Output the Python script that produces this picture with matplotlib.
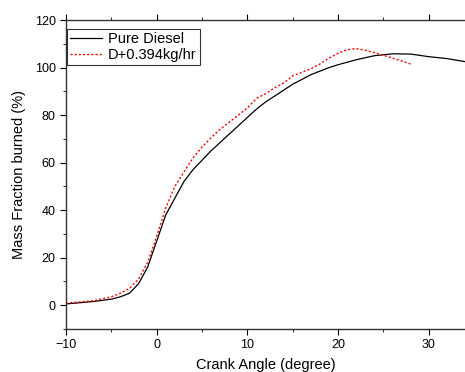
import numpy as np
import matplotlib
matplotlib.use("Agg")
from matplotlib import pyplot as plt
from matplotlib.ticker import MultipleLocator

plt.rcParams['font.family'] = ['Liberation Sans', 'DejaVu Sans']

# Pure Diesel
angDiesel = [-10, -7, -5, -4, -3, -2, -1, 0, 1, 2, 3, 4, 5, 6, 7, 8, 9, 10, 11, 12,
             13, 14, 15, 16, 17, 18, 19, 20, 22, 24, 26, 28, 30, 32, 34]
mfbDiesel = [0.5, 1.5, 2.5, 3.5, 5, 9, 16, 27, 38, 45, 52, 57, 61, 65, 68.5, 72, 75.5, 79, 82.5, 85.5,
             88, 90.5, 93, 95, 97, 98.5, 100, 101.2, 103.3, 105, 105.8, 105.7, 104.6, 103.8, 102.5]

# D+0.394kg/hr
angGas = [-10, -7, -5, -4, -3, -2, -1, 0, 1, 2, 3, 4, 5, 6, 7, 8, 9, 10, 11, 12, 13, 14,
          15, 16, 17, 18, 19, 20, 21, 22, 23, 24, 25, 26, 27, 28]
mfbGas = [0.8, 1.8, 3.5, 5, 7, 11, 18, 29, 41, 50, 56, 62, 66.5, 70.5, 74, 77, 80, 83, 87, 89, 91.5, 93.5,
          96.5, 98, 99.5, 101.5, 104, 106, 107.5, 108, 107.3, 106.3, 105.2, 104, 102.8, 101.5]

fig = plt.figure(figsize=(4.65, 3.72), dpi=100)
ax = fig.add_axes([0.142, 0.116, 0.858, 0.830])

ax.plot(angDiesel, mfbDiesel, color='black', lw=0.9, label='Pure Diesel')
ax.plot(angGas, mfbGas, color='red', lw=1.0, ls=(0, (1.5, 1.5)), label='D+0.394kg/hr')

ax.set_xlim(-10, 34)
ax.set_ylim(-10, 120)
ax.xaxis.set_major_locator(MultipleLocator(10))
ax.xaxis.set_minor_locator(MultipleLocator(5))
ax.yaxis.set_major_locator(MultipleLocator(20))
ax.yaxis.set_minor_locator(MultipleLocator(10))
ax.tick_params(which='both', direction='out', labelsize=9, top=True, labeltop=False)
ax.tick_params(which='major', length=4)
ax.tick_params(which='minor', length=2.5)
ax.spines['right'].set_visible(False)
for s in ['left', 'bottom', 'top']:
    ax.spines[s].set_linewidth(1.0)
    ax.spines[s].set_color('#333333')

ax.set_xlabel('Crank Angle (degree)', fontsize=10.5, labelpad=5)
ax.set_ylabel('Mass Fraction burned (%)', fontsize=10.5, labelpad=6)

leg = ax.legend(loc='upper left', fontsize=10.5, frameon=True, fancybox=False,
                bbox_to_anchor=(0.003, 0.97), borderaxespad=0.0, handlelength=2.2,
                borderpad=0.2, labelspacing=0.1, handletextpad=0.4)
leg.get_frame().set_edgecolor('black')
leg.get_frame().set_linewidth(0.8)

fig.savefig('out.png', dpi=100)
